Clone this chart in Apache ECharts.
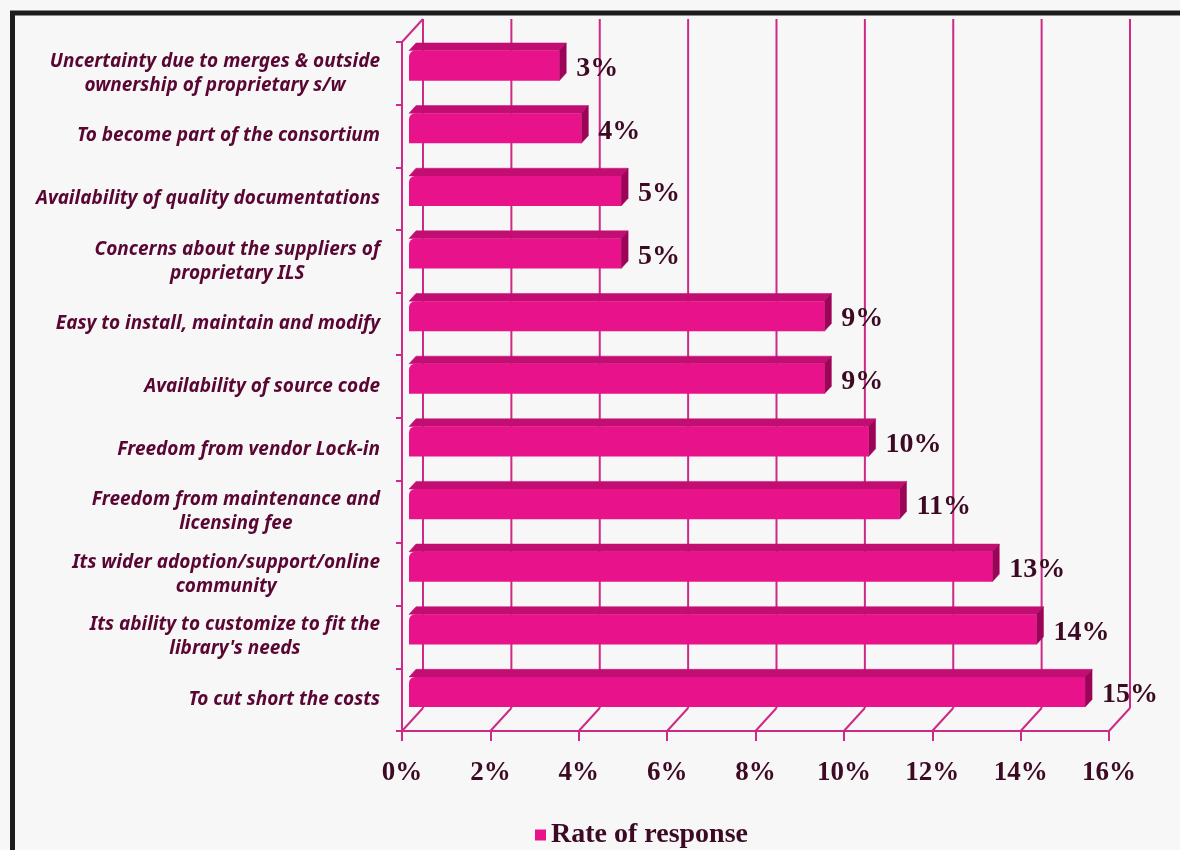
<!DOCTYPE html>
<html>
<head>
<meta charset="utf-8">
<script src="https://cdn.jsdelivr.net/npm/echarts@6/dist/echarts.min.js"></script>
<style>
html,body{margin:0;padding:0;background:#f7f7f7;}
#c{width:1180px;height:850px;}
</style>
</head>
<body>
<div id="c"></div>
<script>
const categories = [
  "Uncertainty due to merges & outside\nownership of proprietary s/w",
  "To become part of the consortium",
  "Availability of quality documentations",
  "Concerns about the suppliers of\nproprietary ILS",
  "Easy to install, maintain and modify",
  "Availability of source code",
  "Freedom from vendor Lock-in",
  "Freedom from maintenance and\nlicensing fee",
  "Its wider adoption/support/online\ncommunity",
  "Its ability to customize to fit the\nlibrary's needs",
  "To cut short the costs"
];
const rateOfResponse = [3.4, 3.9, 4.8, 4.8, 9.4, 9.4, 10.4, 11.1, 13.2, 14.2, 15.3];
const valueLabels = ["3%", "4%", "5%", "5%", "9%", "9%", "10%", "11%", "13%", "14%", "15%"];
const xTicks = [0, 2, 4, 6, 8, 10, 12, 14, 16];
const seriesName = "Rate of response";

const MAG = '#cc2a86';
const BAR = '#e8138a';
const BAR_TOP = '#c20e72';
const BAR_SIDE = '#9c0458';
const TXT = '#3d0a24';
const CAT = '#5a0632';
const DX = 21, DY = -23;

const chart = echarts.init(document.getElementById('c'));

const option = {
  backgroundColor: '#f7f7f7',
  animation: false,
  graphic: [{
    type: 'rect', z: 100,
    shape: {x: 12.5, y: 13, width: 1300, height: 1000},
    style: {fill: 'none', stroke: '#1c1c1c', lineWidth: 5}
  }],
  legend: {
    data: [seriesName],
    top: 816, left: 530,
    icon: 'rect', itemWidth: 11, itemHeight: 11, itemGap: 10,
    textStyle: {fontFamily: 'Liberation Serif', fontWeight: 'bold', fontSize: 28, color: TXT}
  },
  grid: {left: 402, right: 71, top: 42, bottom: 119, containLabel: false},
  xAxis: {
    type: 'value', min: 0, max: 16, interval: 2,
    axisLine: {show: true, lineStyle: {color: MAG, width: 2}},
    axisTick: {show: true, length: 10, lineStyle: {color: MAG, width: 2}},
    splitLine: {show: false},
    axisLabel: {
      formatter: '{value}%', margin: 29,
      fontFamily: 'Liberation Serif', fontWeight: 'bold', fontSize: 27, color: TXT
    }
  },
  yAxis: {
    type: 'category', inverse: true, data: categories,
    axisLine: {show: true, lineStyle: {color: MAG, width: 2}},
    axisTick: {show: true, length: 6, lineStyle: {color: MAG, width: 2}},
    splitLine: {show: false},
    axisLabel: {
      margin: 22,
      formatter: function (v) {
        return v.split('\n').map(function (l) { return '{c|' + l + '}'; }).join('\n');
      },
      rich: {
        c: {
          align: 'center', fontFamily: 'Noto Sans', fontStyle: 'italic', fontWeight: 'bold',
          fontSize: 19, color: CAT, lineHeight: 24
        }
      }
    }
  },
  series: [
    {
      name: 'walls', type: 'custom', silent: true, z: 1, clip: false,
      data: xTicks.map(function (t) { return [t, 0]; }),
      encode: {x: 0, y: 1},
      renderItem: function (params, api) {
        const cs = params.coordSys;
        const x = api.coord([api.value(0), 0])[0];
        const top = cs.y, bottom = cs.y + cs.height;
        const ls = {stroke: MAG, lineWidth: 2};
        const children = [
          {type: 'line', shape: {x1: x + DX, y1: top + DY, x2: x + DX, y2: bottom + DY}, style: ls},
          {type: 'line', shape: {x1: x + DX, y1: bottom + DY, x2: x, y2: bottom}, style: ls}
        ];
        if (api.value(0) === 0) {
          children.push({type: 'line', shape: {x1: x, y1: top, x2: x + DX, y2: top + DY}, style: ls});
        }
        return {type: 'group', children: children};
      }
    },
    {
      name: seriesName, type: 'custom', z: 2, clip: false,
      itemStyle: {color: BAR},
      data: rateOfResponse.map(function (v, i) { return [v, i]; }),
      encode: {x: 0, y: 1},
      renderItem: function (params, api) {
        const v = api.value(0), idx = api.value(1);
        const p0 = api.coord([0, idx]);
        const p1 = api.coord([v, idx]);
        const band = api.size([0, 1])[1];
        const h = band * 0.48;
        const ox = DX / 3, oy = DY / 3;
        const dx = DX / 3, dy = DY / 3;
        const x0 = p0[0] + ox, x1 = p1[0] + ox;
        const yc = p0[1] + oy;
        const yt = yc - h / 2, yb = yc + h / 2;
        const i = params.dataIndex;
        return {
          type: 'group',
          children: [
            {type: 'polygon', shape: {points: [[x0, yt], [x1, yt], [x1 + dx, yt + dy], [x0 + dx, yt + dy]]},
              style: {fill: BAR_TOP, stroke: BAR_TOP, lineWidth: 0.5}},
            {type: 'polygon', shape: {points: [[x1, yt], [x1 + dx, yt + dy], [x1 + dx, yb + dy], [x1, yb]]},
              style: {fill: BAR_SIDE, stroke: BAR_SIDE, lineWidth: 0.5}},
            {type: 'rect', shape: {x: x0, y: yt, width: x1 - x0, height: h, r: [6, 0, 0, 0]},
              style: {fill: BAR}},
            {type: 'text', style: {
              text: valueLabels[i], x: x1 + dx + 10, y: yc + 3,
              fill: TXT, font: 'bold 28px "Liberation Serif"',
              verticalAlign: 'middle', align: 'left'
            }}
          ]
        };
      }
    }
  ]
};
chart.setOption(option);
</script>
</body>
</html>
